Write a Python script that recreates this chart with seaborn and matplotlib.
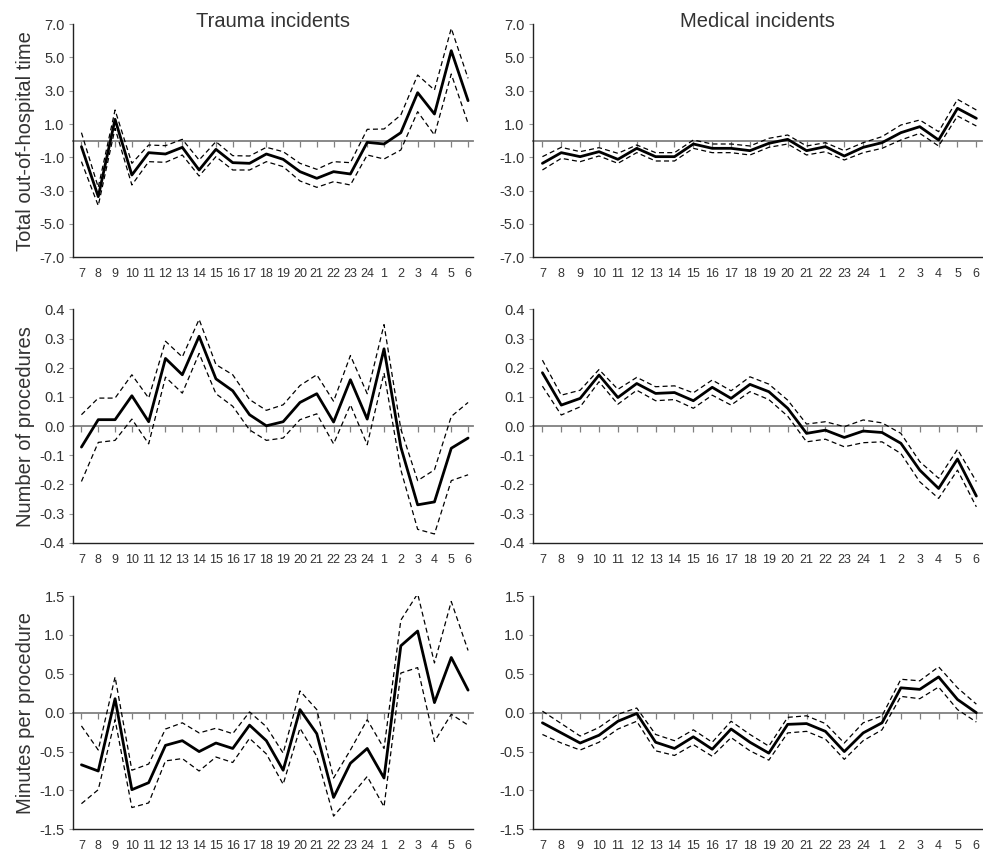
"""
Hourly deviations in out-of-hospital time, procedures and minutes per
procedure, for trauma and medical incidents (mean with dashed 95% limits).
"""

import pandas as pd
import seaborn as sns
import matplotlib.pyplot as plt
from matplotlib.ticker import FormatStrFormatter

hours = [7, 8, 9, 10, 11, 12, 13, 14, 15, 16, 17, 18, 19, 20, 21, 22, 23, 24,
         1, 2, 3, 4, 5, 6]

# total out-of-hospital time
trauma_total = [-0.36, -3.36, 1.28, -2.06, -0.72, -0.8, -0.4, -1.76, -0.52, -1.32,
                -1.36, -0.8, -1.12, -1.86, -2.26, -1.86, -2.0, -0.1, -0.2, 0.48,
                2.88, 1.6, 5.4, 2.4]
trauma_total_hi = [0.48, -2.8, 1.84, -1.36, -0.26, -0.3, 0.08, -1.16, -0.06, -0.9,
                   -0.92, -0.4, -0.66, -1.36, -1.72, -1.26, -1.32, 0.68, 0.7, 1.54,
                   3.94, 3.04, 6.74, 3.74]
trauma_total_lo = [-1.26, -3.9, 0.74, -2.66, -1.26, -1.3, -0.86, -2.12, -0.96, -1.76,
                   -1.76, -1.26, -1.56, -2.42, -2.8, -2.46, -2.66, -0.86, -1.1, -0.56,
                   1.74, 0.34, 4.0, 1.04]
medical_total = [-1.36, -0.72, -0.96, -0.66, -1.12, -0.46, -0.96, -0.96, -0.2, -0.46,
                 -0.46, -0.6, -0.16, 0.08, -0.6, -0.36, -0.92, -0.4, -0.12, 0.48,
                 0.84, 0.04, 1.94, 1.34]
medical_total_hi = [-0.96, -0.4, -0.66, -0.42, -0.76, -0.26, -0.72, -0.72, 0.04, -0.2,
                    -0.2, -0.32, 0.14, 0.34, -0.32, -0.12, -0.6, -0.12, 0.24, 0.94,
                    1.24, 0.54, 2.48, 1.84]
medical_total_lo = [-1.76, -1.06, -1.26, -0.92, -1.36, -0.72, -1.22, -1.22, -0.46, -0.72,
                    -0.72, -0.86, -0.4, -0.2, -0.86, -0.66, -1.16, -0.72, -0.46, 0.04,
                    0.44, -0.32, 1.48, 0.88]

# number of procedures
trauma_proc = [-0.072, 0.022, 0.022, 0.104, 0.015, 0.232, 0.176, 0.308, 0.162, 0.121,
               0.039, 0.001, 0.015, 0.081, 0.111, 0.014, 0.159, 0.024, 0.265, -0.072,
               -0.27, -0.26, -0.076, -0.041]
trauma_proc_hi = [0.039, 0.096, 0.096, 0.176, 0.096, 0.291, 0.237, 0.366, 0.211, 0.176,
                  0.091, 0.054, 0.073, 0.139, 0.176, 0.085, 0.242, 0.111, 0.348, -0.01,
                  -0.187, -0.15, 0.033, 0.081]
trauma_proc_lo = [-0.19, -0.056, -0.049, 0.024, -0.061, 0.168, 0.113, 0.249, 0.111, 0.068,
                  -0.013, -0.049, -0.041, 0.022, 0.042, -0.061, 0.073, -0.064, 0.182, -0.15,
                  -0.354, -0.37, -0.187, -0.167]
medical_proc = [0.183, 0.072, 0.095, 0.175, 0.098, 0.146, 0.112, 0.115, 0.087, 0.133,
                0.095, 0.143, 0.118, 0.061, -0.025, -0.014, -0.039, -0.017, -0.022, -0.059,
                -0.151, -0.214, -0.113, -0.24]
medical_proc_hi = [0.226, 0.106, 0.123, 0.194, 0.126, 0.167, 0.135, 0.138, 0.114, 0.158,
                   0.121, 0.169, 0.144, 0.089, 0.007, 0.015, -0.002, 0.021, 0.011, -0.025,
                   -0.122, -0.179, -0.08, -0.19]
medical_proc_lo = [0.137, 0.038, 0.066, 0.152, 0.075, 0.123, 0.087, 0.091, 0.061, 0.106,
                   0.072, 0.118, 0.091, 0.034, -0.054, -0.045, -0.071, -0.057, -0.054, -0.094,
                   -0.191, -0.248, -0.151, -0.277]

# minutes per procedure
trauma_min = [-0.67, -0.75, 0.18, -0.99, -0.9, -0.42, -0.36, -0.5, -0.39, -0.46,
              -0.16, -0.36, -0.74, 0.04, -0.27, -1.09, -0.65, -0.46, -0.84, 0.86,
              1.05, 0.13, 0.71, 0.29]
trauma_min_hi = [-0.17, -0.48, 0.46, -0.74, -0.66, -0.21, -0.13, -0.26, -0.2, -0.27,
                 0.01, -0.18, -0.52, 0.28, 0.04, -0.84, -0.48, -0.09, -0.46, 1.19,
                 1.53, 0.64, 1.43, 0.8]
trauma_min_lo = [-1.17, -0.99, -0.09, -1.22, -1.16, -0.62, -0.59, -0.75, -0.57, -0.64,
                 -0.33, -0.53, -0.92, -0.2, -0.56, -1.33, -1.08, -0.82, -1.21, 0.51,
                 0.58, -0.37, -0.02, -0.16]
medical_min = [-0.13, -0.26, -0.39, -0.29, -0.11, -0.01, -0.38, -0.46, -0.31, -0.47,
               -0.21, -0.38, -0.52, -0.15, -0.14, -0.24, -0.5, -0.26, -0.13, 0.32,
               0.3, 0.46, 0.17, 0.0]
medical_min_hi = [0.02, -0.14, -0.3, -0.19, -0.02, 0.06, -0.28, -0.36, -0.22, -0.38,
                  -0.11, -0.28, -0.43, -0.06, -0.04, -0.14, -0.39, -0.13, -0.04, 0.43,
                  0.41, 0.59, 0.32, 0.11]
medical_min_lo = [-0.28, -0.39, -0.48, -0.38, -0.21, -0.11, -0.49, -0.55, -0.41, -0.56,
                  -0.32, -0.49, -0.61, -0.26, -0.24, -0.34, -0.6, -0.36, -0.22, 0.21,
                  0.18, 0.33, 0.04, -0.12]

row_labels = ["Total out-of-hospital time", "Number of procedures", "Minutes per procedure"]
col_titles = ["Trauma incidents", "Medical incidents"]
y_ticks = [[-7, -5, -3, -1, 1, 3, 5, 7],
           [-0.4, -0.3, -0.2, -0.1, 0.0, 0.1, 0.2, 0.3, 0.4],
           [-1.5, -1.0, -0.5, 0.0, 0.5, 1.0, 1.5]]

panels = [
    [(trauma_total, trauma_total_lo, trauma_total_hi),
     (medical_total, medical_total_lo, medical_total_hi)],
    [(trauma_proc, trauma_proc_lo, trauma_proc_hi),
     (medical_proc, medical_proc_lo, medical_proc_hi)],
    [(trauma_min, trauma_min_lo, trauma_min_hi),
     (medical_min, medical_min_lo, medical_min_hi)],
]

sns.set_style("white")
plt.rcParams["font.family"] = ["Liberation Sans", "DejaVu Sans"]
text_col = "#333333"

fig = plt.figure(figsize=(9.83, 8.52), dpi=100)
row_bottoms = [0.698, 0.363, 0.0266]
col_lefts = [0.0743, 0.5422]
col_widths = [0.407, 0.4568]
pos = list(range(len(hours)))

for r in range(3):
    for c in range(2):
        ax = fig.add_axes([col_lefts[c], row_bottoms[r], col_widths[c], 0.2738])
        mean, lo, hi = panels[r][c]
        df = pd.DataFrame({"pos": pos, "mean": mean, "lo": lo, "hi": hi})

        sns.lineplot(data=df, x="pos", y="hi", ax=ax, color="black", lw=0.9,
                     linestyle=(0, (4, 2.6)), errorbar=None)
        sns.lineplot(data=df, x="pos", y="lo", ax=ax, color="black", lw=0.9,
                     linestyle=(0, (4, 2.6)), errorbar=None)
        sns.lineplot(data=df, x="pos", y="mean", ax=ax, color="black", lw=2.0,
                     errorbar=None)

        lim = y_ticks[r][-1]
        ax.set_ylim(-lim, lim)
        ax.set_xlim(-0.5, 23.3)
        ax.set_yticks(y_ticks[r])
        ax.yaxis.set_major_formatter(FormatStrFormatter("%.1f"))
        ax.set_xticks(pos)
        ax.set_xticklabels([str(h) for h in hours])
        ax.tick_params(axis="x", length=0, pad=8, labelsize=9, labelcolor=text_col)
        ax.tick_params(axis="y", length=3, width=0.8, direction="out", left=True,
                       color="#999999", pad=3, labelsize=10.5, labelcolor=text_col)
        ax.set_xlabel("")
        ax.set_ylabel(row_labels[r] if c == 0 else "", fontsize=14.5,
                      color=text_col, labelpad=3)
        for side in ["top", "right"]:
            ax.spines[side].set_visible(False)
        for side in ["left", "bottom"]:
            ax.spines[side].set_color("#222222")
            ax.spines[side].set_linewidth(1.0)

        # zero reference line with hanging hour ticks
        zero = ax.secondary_xaxis(0.5)
        zero.set_xticks(pos)
        zero.tick_params(direction="in", length=4, width=0.9, color="#808080",
                         labeltop=False, labelbottom=False)
        zero.spines["top"].set_color("#808080")
        zero.spines["top"].set_linewidth(1.3)

        if r == 0:
            ax.set_title(col_titles[c], fontsize=14.5, color=text_col, pad=-2)

plt.savefig("out.png", dpi=100)
